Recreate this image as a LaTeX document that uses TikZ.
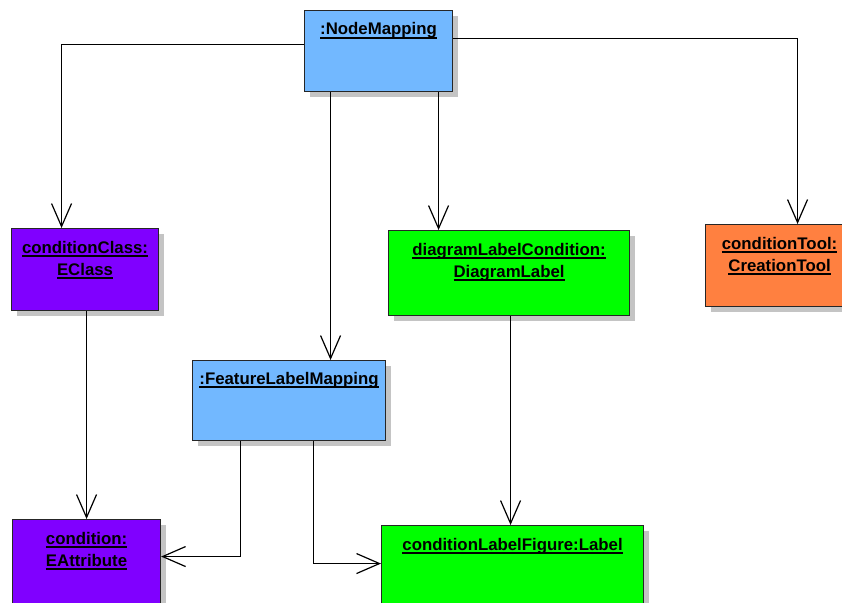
\documentclass[tikz,border=0pt]{standalone}
\usepackage{fontspec}
\setmainfont{Liberation Sans}
\usetikzlibrary{arrows.meta,shadows}
\definecolor{mapblue}{HTML}{72B8FF}
\definecolor{ecorepurple}{HTML}{8000FF}
\definecolor{diagramgreen}{HTML}{00FF00}
\definecolor{toolorange}{HTML}{FF8040}
\definecolor{shade}{HTML}{C4C4C4}
% underlined object name with a fixed rule position
\newcommand\ulname[1]{\setbox0=\hbox{#1}\rlap{\rule[-3.6pt]{\wd0}{1.4pt}}\box0}

\begin{document}
\begin{tikzpicture}[x=1pt,y=-1pt,
  obj/.style={draw=black!85, line width=1.1pt, anchor=north west, inner sep=0pt,
    drop shadow={shadow xshift=5pt,shadow yshift=-5pt,fill=shade,opacity=1}},
  caption/.style={anchor=base, inner sep=0pt, align=center,
    font=\bfseries\fontsize{16.8}{22}\selectfont},
  link/.style={line width=1.2pt, -{Straight Barb[length=23pt,width=20pt]}}]
\useasboundingbox (0,0) rectangle (842,602);
\clip (0,0) rectangle (842,602);

% object boxes
\node[obj, fill=mapblue, minimum width=148pt, minimum height=81pt] (nm) at (304,10) {};
\node[obj, fill=ecorepurple, minimum width=147pt, minimum height=82pt] (cc) at (11,228) {};
\node[obj, fill=diagramgreen, minimum width=241pt, minimum height=85pt] (dlc) at (388,230) {};
\node[obj, fill=toolorange, minimum width=148pt, minimum height=82pt] (ct) at (705,224) {};
\node[obj, fill=mapblue, minimum width=193pt, minimum height=80pt] (flm) at (192,360) {};
\node[obj, fill=ecorepurple, minimum width=148pt, minimum height=90pt] (ca) at (12,519) {};
\node[obj, fill=diagramgreen, minimum width=262pt, minimum height=90pt] (clf) at (381,525) {};

% object names (base anchor sits on the last line)
\node[caption] (nmt) at ([yshift=-25pt]nm.north) {\ulname{:NodeMapping}};
\node[caption] (cct) at ([yshift=-47pt]cc.north) {\ulname{conditionClass:}\\\ulname{EClass}};
\node[caption] (dlct) at ([yshift=-47pt]dlc.north) {\ulname{diagramLabelCondition:}\\\ulname{DiagramLabel}};
\node[caption] (ctt) at ([yshift=-47pt]ct.north) {\ulname{conditionTool:}\\\ulname{CreationTool}};
\node[caption] (flmt) at ([yshift=-24pt]flm.north) {\ulname{:FeatureLabelMapping}};
\node[caption] (cat) at ([yshift=-47pt]ca.north) {\ulname{condition:}\\\ulname{EAttribute}};
\node[caption] (clft) at ([yshift=-25pt]clf.north) {\ulname{conditionLabelFigure:Label}};

% links
\draw[link] ([yshift=6.5pt]nm.west) -| ([xshift=-23.5pt]cc.north);
\draw[link] ([yshift=12.5pt]nm.east) -| ([xshift=18pt]ct.north);
\draw[link] ([xshift=-48pt]nm.south) -- ([xshift=41.5pt]flm.north);
\draw[link] ([xshift=60pt]nm.south) -- ([xshift=-70.5pt]dlc.north);
\draw[link] ([xshift=1.5pt]cc.south) -- (ca.north);
\draw[link] ([xshift=-48.5pt]flm.south) |- ([yshift=8pt]ca.east);
\draw[link] ([xshift=24.5pt]flm.south) |- ([yshift=7pt]clf.west);
\draw[link] ([xshift=1.5pt]dlc.south) -- ([xshift=1.5pt]dlc.south |- clf.north);
\end{tikzpicture}
\end{document}
